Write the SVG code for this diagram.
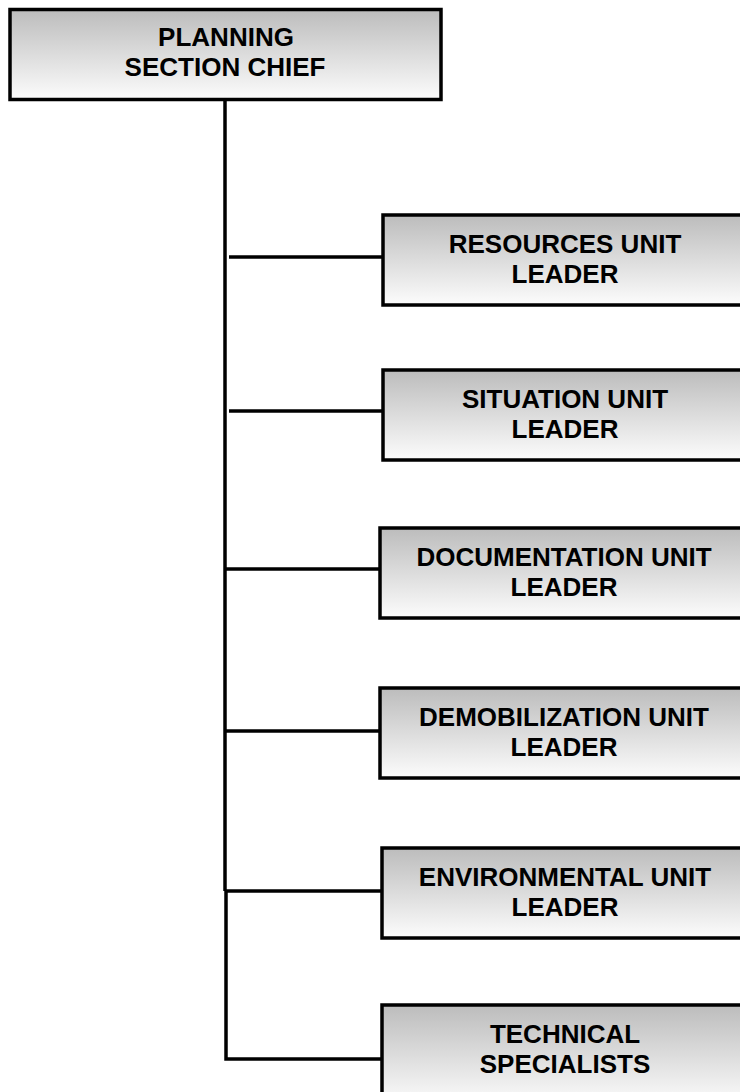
<svg xmlns="http://www.w3.org/2000/svg" width="740" height="1092" viewBox="0 0 740 1092">
<defs>
<linearGradient id="g" x1="0" y1="0" x2="0" y2="1">
<stop offset="0" stop-color="#bcbcbc"/>
<stop offset="1" stop-color="#fcfcfc"/>
</linearGradient>
</defs>
<style>
.box{fill:url(#g);stroke:#000;stroke-width:3.5}
.t{font-family:"Liberation Sans",Arial,sans-serif;font-weight:bold;font-size:26px;fill:#000;text-anchor:middle}
.c{fill:none;stroke:#000;stroke-width:3.5}
</style>
<rect width="740" height="1092" fill="#fff"/>
<g id="connectors">
<path class="c" d="M225,100 V891"/>
<path class="c" d="M226,891 V1059 H381"/>
<path class="c" d="M229,257 H382"/>
<path class="c" d="M229,411 H382"/>
<path class="c" d="M225,569 H379"/>
<path class="c" d="M225,731 H379"/>
<path class="c" d="M225,891 H381"/>
</g>
<g id="planning-chief">
<rect class="box" x="10" y="9.5" width="431" height="90"/>
<text class="t" x="226" y="46">PLANNING</text>
<text class="t" x="225" y="76">SECTION CHIEF</text>
</g>
<g id="resources">
<rect class="box" x="383" y="215" width="370" height="90"/>
<text class="t" x="565" y="253">RESOURCES UNIT</text>
<text class="t" x="565" y="283">LEADER</text>
</g>
<g id="situation">
<rect class="box" x="383" y="370" width="370" height="90"/>
<text class="t" x="565" y="408">SITUATION UNIT</text>
<text class="t" x="565" y="438">LEADER</text>
</g>
<g id="documentation">
<rect class="box" x="380" y="528" width="370" height="90"/>
<text class="t" x="564" y="566">DOCUMENTATION UNIT</text>
<text class="t" x="564" y="596">LEADER</text>
</g>
<g id="demobilization">
<rect class="box" x="380" y="688" width="370" height="90"/>
<text class="t" x="564" y="726">DEMOBILIZATION UNIT</text>
<text class="t" x="564" y="756">LEADER</text>
</g>
<g id="environmental">
<rect class="box" x="382" y="848" width="370" height="90"/>
<text class="t" x="565" y="886">ENVIRONMENTAL UNIT</text>
<text class="t" x="565" y="916">LEADER</text>
</g>
<g id="technical">
<rect class="box" x="382" y="1005" width="370" height="100"/>
<text class="t" x="565" y="1043">TECHNICAL</text>
<text class="t" x="565" y="1073">SPECIALISTS</text>
</g>
</svg>
